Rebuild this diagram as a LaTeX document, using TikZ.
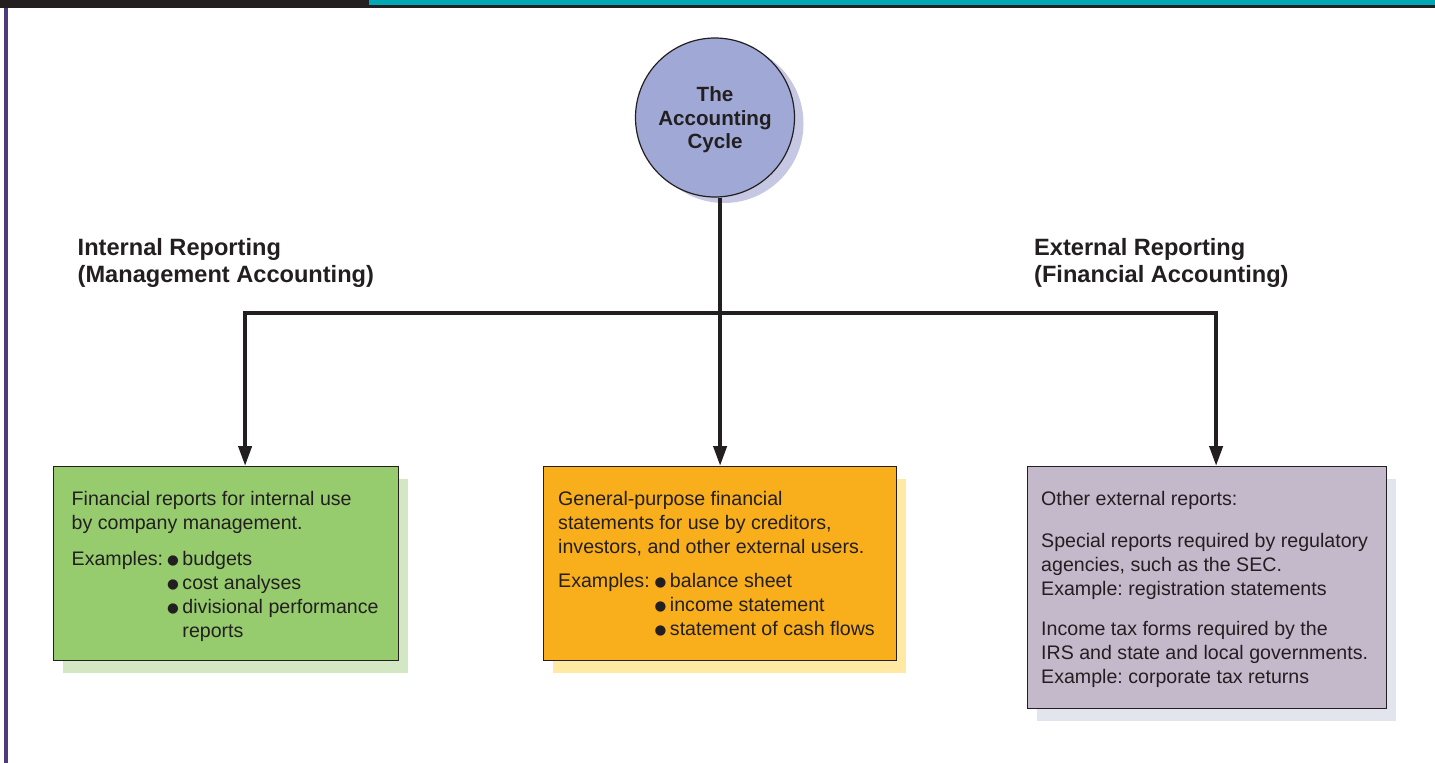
\documentclass[tikz,border=0pt]{standalone}
\usepackage{fontspec}
\setmainfont{Liberation Sans}
\newfontfamily\symfont{DejaVu Sans}
\usetikzlibrary{arrows.meta,positioning,shadows}
\frenchspacing
\definecolor{ink}{HTML}{231F20}
\definecolor{tealbar}{HTML}{00A8B5}
\definecolor{plum}{HTML}{4D3B7A}
\definecolor{cyc}{HTML}{A0A8D6}
\definecolor{cycl}{HTML}{C6C8E3}
\definecolor{grn}{HTML}{96CC6E}
\definecolor{grnl}{HTML}{D4E7C5}
\definecolor{org}{HTML}{F9AF1B}
\definecolor{orgl}{HTML}{FFE9A3}
\definecolor{lil}{HTML}{C4B8CB}
\definecolor{lill}{HTML}{E2E4EE}
\newcommand{\bul}{\raisebox{1pt}{\symfont\fontsize{13.5}{24}\selectfont ●}\hspace{3.5pt}}

\begin{document}
\begin{tikzpicture}[x=1pt,y=-1pt,text=ink,font=\fontsize{19.6}{24}\selectfont,
      shdw/.style={general shadow={fill=#1,shadow xshift=9.5pt,shadow yshift=-12pt}},
      box/.style={draw=ink,line width=1.2pt,anchor=north west,inner sep=0pt},
      txt/.style={anchor=north west,inner sep=0pt,align=left},
      hd/.style={anchor=north west,inner sep=0pt,align=left,
        font=\fontsize{23.6}{27}\selectfont\bfseries},
      conn/.style={draw=ink,line width=4pt},
      arr/.style={conn,-{Triangle[length=20pt,width=13pt]}}]
    \useasboundingbox (0,0) rectangle (1435,763);
    % page frame
    \fill[ink] (0,0) rectangle (1435,7.5);
    \fill[tealbar] (369,0) rectangle (1435,5);
    \fill[plum] (3.5,7.5) rectangle (7.5,763);
    % cycle
    \node[circle,draw=ink,line width=1.2pt,fill=cyc,minimum size=159pt,
      general shadow={fill=cycl,shadow xshift=9pt,shadow yshift=-6pt}] (acc) at (715,117.5) {};
    \node[align=center,font=\fontsize{20.6}{23.5}\selectfont\bfseries] (acctxt)
      at ([yshift=-2.5pt]acc.center) {The\\Accounting\\Cycle};
    \node[hd] (inthd) at (77.5,238) {Internal Reporting\\(Management Accounting)};
    \node[hd] (exthd) at (1034,238) {External Reporting\\(Financial Accounting)};
    % boxes
    \node[box,fill=grn,shdw=grnl,minimum width=345pt,minimum height=194pt] (intl) at (53,466) {};
    \node[box,fill=org,shdw=orgl,minimum width=353pt,minimum height=194pt] (mid) at (543,466) {};
    \node[box,fill=lil,shdw=lill,minimum width=359pt,minimum height=242pt] (ext) at (1027,466) {};
    \node[txt] (intltxt) at (71.5,491) {Financial reports for internal use\\by company management.\\[12pt]%
      \begin{tabular}[t]{@{}l@{\hspace{4pt}}l@{}}Examples:&\bul budgets\\
        &\bul cost analyses\\
        &\bul divisional performance\\
        &\phantom{\bul}reports\end{tabular}};
    \node[txt] (midtxt) at (558,491) {General-purpose financial\\statements for use by creditors,\\%
      investors, and other external users.\\[10pt]%
      \begin{tabular}[t]{@{}l@{\hspace{5pt}}l@{}}Examples:&\bul balance sheet\\
        &\bul income statement\\
        &\bul statement of cash flows\end{tabular}};
    \node[txt] (exttxt) at (1041,491) {Other external reports:\\[18pt]%
      Special reports required by regulatory\\agencies, such as the SEC.\\%
      Example: registration statements\\[16pt]%
      Income tax forms required by the\\IRS and state and local governments.\\%
      Example: corporate tax returns};
    % connectors
    \coordinate (split) at (mid.north |- 0,313);
    \draw[arr] (acc.south -| mid.north) -- (mid.north);
    \draw[arr] (split) -| ([xshift=19pt]intl.north);
    \draw[arr] (split) -| ([xshift=9pt]ext.north);
  \end{tikzpicture}
\end{document}
